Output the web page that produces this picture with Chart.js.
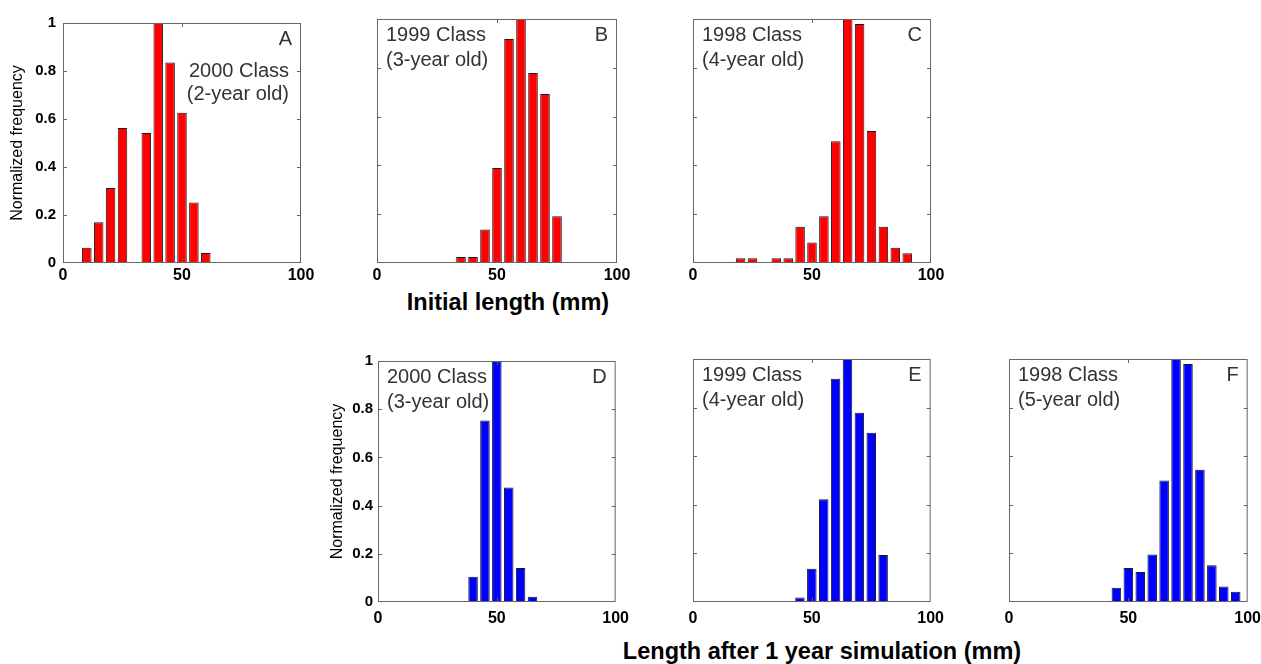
<!DOCTYPE html>
<html>
<head>
<meta charset="utf-8">
<script src="https://cdn.jsdelivr.net/npm/chart.js@4.4.0/dist/chart.umd.min.js"></script>
<style>
  html, body { margin: 0; padding: 0; background: #fff; }
  body { width: 1261px; height: 664px; position: relative; overflow: hidden; font-family: "Liberation Sans", Arial, sans-serif; }
  canvas { position: absolute; }
  .xtitle { position: absolute; transform: translate(-50%, -50%); font-weight: bold; font-size: 23.5px; line-height: 1; white-space: nowrap; color: #000; }
</style>
</head>
<body>
<div class="xtitle" style="left:508px; top:303px;">Initial length (mm)</div>
<div class="xtitle" style="left:822px; top:652px;">Length after 1 year simulation (mm)</div>
<script>
// bin centres (mm) and normalized frequency
const lenA = [10, 15, 20, 25, 35, 40, 45, 50, 55, 60];
const freqA = [0.064, 0.17, 0.312, 0.563, 0.542, 1, 0.835, 0.626, 0.252, 0.042];
const lenB = [35, 40, 45, 50, 55, 60, 65, 70, 75];
const freqB = [0.025, 0.025, 0.137, 0.389, 0.918, 1, 0.779, 0.693, 0.192];
const lenC = [20, 25, 35, 40, 45, 50, 55, 60, 65, 70, 75, 80, 85, 90];
const freqC = [0.019, 0.019, 0.019, 0.019, 0.149, 0.084, 0.192, 0.499, 1, 0.979, 0.541, 0.149, 0.063, 0.04];
const lenD = [40, 45, 50, 55, 60, 65];
const freqD = [0.105, 0.753, 1, 0.475, 0.141, 0.022];
const lenE = [45, 50, 55, 60, 65, 70, 75, 80];
const freqE = [0.019, 0.137, 0.423, 0.919, 1, 0.779, 0.696, 0.193];
const lenF = [45, 50, 55, 60, 65, 70, 75, 80, 85, 90, 95];
const freqF = [0.059, 0.14, 0.123, 0.195, 0.5, 1, 0.979, 0.544, 0.151, 0.064, 0.042];

const xTicks = [0, 50, 100];
const yTitle = 'Normalized frequency';
const classText = {
  A: ['2000 Class', '(2-year old)'],
  B: ['1999 Class', '(3-year old)'],
  C: ['1998 Class', '(4-year old)'],
  D: ['2000 Class', '(3-year old)'],
  E: ['1999 Class', '(4-year old)'],
  F: ['1998 Class', '(5-year old)']
};

const FONT = '"Liberation Sans", Arial, sans-serif';
const RED = '#ff0000';
const BLUE = '#0000ff';

// plot box position on the page (left, top, width, height)
const panels = [
  {id: 'A', len: lenA, freq: freqA, color: RED,  x: 63,   y: 19,  w: 238, h: 244, yLabels: true, yPad: 7, tPad: 7, xPad: 3, textRight: true},
  {id: 'B', len: lenB, freq: freqB, color: RED,  x: 377,  y: 19,  w: 240, h: 244, xPad: 3},
  {id: 'C', len: lenC, freq: freqC, color: RED,  x: 693,  y: 19,  w: 238, h: 244, xPad: 3},
  {id: 'D', len: lenD, freq: freqD, color: BLUE, x: 378,  y: 359, w: 238, h: 243, yLabels: true, yPad: 5, tPad: 12, xPad: 7},
  {id: 'E', len: lenE, freq: freqE, color: BLUE, x: 693,  y: 359, w: 238, h: 243, xPad: 7},
  {id: 'F', len: lenF, freq: freqF, color: BLUE, x: 1009, y: 359, w: 239, h: 243, xPad: 7}
];

const LEFT = 62, TOP = 12, RIGHT = 20, BOTTOM = 30;

function framePlugin(p) {
  return {
    id: 'frame' + p.id,
    afterDraw(chart) {
      const {ctx, chartArea: a, scales} = chart;
      ctx.save();
      ctx.strokeStyle = '#666';
      ctx.lineWidth = 1;
      ctx.beginPath();
      // inward tick marks, matlab style
      scales.y.ticks.forEach(t => {
        if (t.value <= 0 || t.value >= 1) return;
        const y = Math.round(scales.y.getPixelForValue(t.value)) + 0.5;
        ctx.moveTo(a.left, y); ctx.lineTo(a.left + 4, y);
        ctx.moveTo(a.right - 4, y); ctx.lineTo(a.right, y);
      });
      scales.x.ticks.forEach(t => {
        if (t.value <= 0 || t.value >= 100) return;
        const x = Math.round(scales.x.getPixelForValue(t.value)) + 0.5;
        ctx.moveTo(x, a.top); ctx.lineTo(x, a.top + 4);
        ctx.moveTo(x, a.bottom); ctx.lineTo(x, a.bottom - 4);
      });
      ctx.stroke();
      ctx.strokeRect(a.left + 0.5, a.top + 0.5, a.right - a.left - 1, a.bottom - a.top - 1);

      // panel letter and class text
      const lines = classText[p.id];
      ctx.fillStyle = '#333';
      ctx.font = '20px ' + FONT;
      ctx.textBaseline = 'middle';
      ctx.textAlign = 'right';
      ctx.fillText(p.id, a.right - 9, a.top + 16);
      if (p.textRight) {
        ctx.fillText(lines[0], a.right - 12, a.top + 48);
        ctx.fillText(lines[1], a.right - 12, a.top + 71);
      } else {
        ctx.textAlign = 'left';
        ctx.fillText(lines[0], a.left + 9, a.top + 16);
        ctx.fillText(lines[1], a.left + 9, a.top + 41);
      }
      ctx.restore();
    }
  };
}

panels.forEach(p => {
  const c = document.createElement('canvas');
  c.width = p.w + LEFT + RIGHT;
  c.height = p.h + TOP + BOTTOM;
  c.style.left = (p.x - LEFT) + 'px';
  c.style.top = (p.y - TOP) + 'px';
  document.body.appendChild(c);

  new Chart(c, {
    type: 'bar',
    data: {
      datasets: [{
        data: p.len.map((v, i) => ({x: v, y: p.freq[i]})),
        backgroundColor: p.color,
        borderColor: '#1a1a1a',
        borderWidth: 1,
        borderSkipped: false,
        categoryPercentage: 1,
        barPercentage: 0.8
      }]
    },
    options: {
      responsive: false,
      animation: false,
      devicePixelRatio: 1,
      layout: {padding: {left: 0, top: TOP, right: RIGHT, bottom: 0}},
      plugins: {legend: {display: false}, tooltip: {enabled: false}},
      scales: {
        x: {
          type: 'linear',
          min: 0,
          max: 100,
          offset: false,
          afterBuildTicks: s => { s.ticks = xTicks.map(v => ({value: v})); },
          ticks: {color: '#000', font: {family: FONT, size: 16, weight: 'bold'}, padding: p.xPad, maxRotation: 0, autoSkip: false},
          grid: {display: false, drawTicks: false, offset: false},
          border: {display: false},
          afterFit: s => { s.height = BOTTOM; }
        },
        y: {
          min: 0,
          max: 1,
          ticks: {
            stepSize: 0.2,
            display: !!p.yLabels,
            callback: v => String(Number(v.toFixed(2))),
            color: '#000',
            font: {family: FONT, size: 15, weight: 'bold'},
            padding: p.yPad || 5
          },
          grid: {display: false, drawTicks: false},
          border: {display: false},
          title: {display: !!p.yLabels, text: yTitle, color: '#000', font: {family: FONT, size: 16}, padding: {top: p.tPad || 0, bottom: 0}},
          afterFit: s => { s.width = LEFT; }
        }
      }
    },
    plugins: [framePlugin(p)]
  });
});
</script>
</body>
</html>
